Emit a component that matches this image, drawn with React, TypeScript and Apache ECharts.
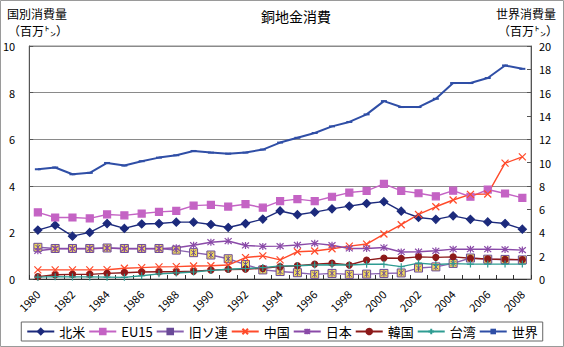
import React, { useEffect, useRef } from "react";
import * as echarts from "echarts";

// Refined copper consumption by country/region, million tonnes
const years = [
  "1980", "1981", "1982", "1983", "1984", "1985", "1986", "1987", "1988", "1989",
  "1990", "1991", "1992", "1993", "1994", "1995", "1996", "1997", "1998", "1999",
  "2000", "2001", "2002", "2003", "2004", "2005", "2006", "2007", "2008",
];
const northAmerica = [2.10, 2.31, 1.84, 2.00, 2.38, 2.17, 2.36, 2.38, 2.44, 2.44, 2.34, 2.21, 2.38, 2.57, 2.92, 2.76, 2.87, 3.01, 3.13, 3.24, 3.32, 2.91, 2.64, 2.56, 2.71, 2.56, 2.45, 2.38, 2.14];
const eu15 = [2.86, 2.64, 2.64, 2.60, 2.77, 2.73, 2.81, 2.88, 2.92, 3.15, 3.18, 3.11, 3.21, 3.06, 3.34, 3.43, 3.34, 3.53, 3.71, 3.78, 4.08, 3.78, 3.68, 3.55, 3.79, 3.53, 3.84, 3.67, 3.48];
const formerUSSR = [1.36, 1.31, 1.31, 1.31, 1.33, 1.31, 1.31, 1.31, 1.24, 1.13, 1.03, 0.87, 0.62, 0.39, 0.32, 0.27, 0.20, 0.24, 0.20, 0.21, 0.24, 0.26, 0.47, 0.52, 0.67, 0.90, 0.85, 0.84, 0.82];
const china = [0.39, 0.39, 0.39, 0.39, 0.40, 0.46, 0.49, 0.52, 0.53, 0.56, 0.57, 0.60, 0.92, 0.99, 0.82, 1.17, 1.20, 1.30, 1.41, 1.50, 1.93, 2.33, 2.77, 3.10, 3.39, 3.63, 3.65, 4.97, 5.24];
const japan = [1.21, 1.30, 1.30, 1.30, 1.33, 1.30, 1.30, 1.30, 1.34, 1.45, 1.58, 1.63, 1.44, 1.40, 1.41, 1.46, 1.53, 1.45, 1.31, 1.31, 1.35, 1.16, 1.17, 1.21, 1.28, 1.28, 1.28, 1.27, 1.24];
const korea = [0.10, 0.18, 0.20, 0.20, 0.24, 0.27, 0.30, 0.31, 0.31, 0.33, 0.38, 0.41, 0.42, 0.46, 0.53, 0.57, 0.64, 0.68, 0.60, 0.81, 0.90, 0.89, 0.95, 0.93, 0.95, 0.89, 0.86, 0.84, 0.83];
const taiwan = [0.08, 0.10, 0.09, 0.09, 0.08, 0.07, 0.14, 0.22, 0.26, 0.30, 0.37, 0.42, 0.45, 0.49, 0.56, 0.57, 0.60, 0.61, 0.60, 0.63, 0.63, 0.53, 0.68, 0.62, 0.66, 0.64, 0.64, 0.64, 0.64];
const world = [9.42, 9.57, 8.99, 9.11, 9.96, 9.74, 10.11, 10.42, 10.62, 10.99, 10.85, 10.76, 10.85, 11.11, 11.71, 12.12, 12.53, 13.10, 13.48, 14.13, 15.27, 14.76, 14.76, 15.47, 16.82, 16.82, 17.25, 18.33, 18.04];

const leftTicks = { min: 0, max: 10, interval: 2 };
const rightTicks = { min: 0, max: 20, interval: 2 };

const FONT = "'Noto Sans CJK JP', 'Noto Sans', sans-serif";

// Stroke-only marker shapes
const X_MARK = "path://M0,0L10,10M10,0L0,10";
const STAR_MARK = "path://M0,0L10,10M10,0L0,10M5,-1L5,11";
const PLUS_MARK = "path://M5,0L5,10M0,5L10,5";
const BOXED_X_MARK = "path://M0,0L10,0L10,10L0,10Z M2,2L8,8 M8,2L2,8 M5,1L5,9";

function lineSeries(
  name: string,
  data: number[],
  color: string,
  symbol: string,
  opts: { fill?: string; stroke?: string; size?: number | number[]; width?: number; yAxisIndex?: number; bw?: number } = {}
) {
  return {
    name,
    type: "line",
    data,
    yAxisIndex: opts.yAxisIndex ?? 0,
    symbol,
    symbolSize: opts.size ?? 7,
    showAllSymbol: true,
    lineStyle: { color, width: opts.width ?? 1.4 },
    itemStyle: {
      color: opts.fill ?? color,
      borderColor: opts.stroke ?? color,
      borderWidth: opts.bw ?? 1.2,
    },
    emphasis: { disabled: true },
  };
}

export default function App() {
  const ref = useRef<HTMLDivElement>(null);

  useEffect(() => {
    if (!ref.current) return;
    const chart = echarts.init(ref.current, undefined, { renderer: "svg" });
    chart.setOption({
      animation: false,
      backgroundColor: "#ffffff",
      textStyle: { fontFamily: FONT },
      grid: {
        left: 29,
        right: 33,
        top: 46,
        bottom: 68,
        show: true,
        borderColor: "#8a8a8a",
        borderWidth: 1,
      },
      graphic: [
        {
          type: "rect",
          shape: { x: 0.5, y: 0.5, width: 563, height: 346 },
          style: { fill: "none", stroke: "#9a9a9a", lineWidth: 1 },
          silent: true,
          z: -10,
        },
        {
          type: "text",
          x: 296,
          y: 9,
          style: { text: "銅地金消費", font: `14px ${FONT}`, fill: "#000", textAlign: "center" },
        },
        {
          type: "text",
          x: 7,
          y: 7,
          style: { text: "国別消費量", font: `12px ${FONT}`, fill: "#000" },
        },
        {
          type: "text",
          x: 8,
          y: 24,
          style: { text: "（百万㌧）", font: `12px ${FONT}`, fill: "#000" },
        },
        {
          type: "text",
          x: 556,
          y: 7,
          style: { text: "世界消費量", font: `12px ${FONT}`, fill: "#000", textAlign: "right" },
        },
        {
          type: "text",
          x: 558,
          y: 24,
          style: { text: "（百万㌧）", font: `12px ${FONT}`, fill: "#000", textAlign: "right" },
        },
      ],
      legend: {
        top: 322,
        left: "center",
        orient: "horizontal",
        itemWidth: 27,
        itemHeight: 7,
        itemGap: 3,
        padding: [3, 5],
        borderColor: "#666",
        borderWidth: 1,
        textStyle: { fontSize: 13, color: "#000", fontFamily: FONT },
        data: ["北米", "EU15", "旧ソ連", "中国", "日本", "韓国", "台湾", "世界"],
      },
      xAxis: {
        type: "category",
        data: years,
        boundaryGap: true,
        axisLine: { lineStyle: { color: "#333", width: 1 } },
        axisTick: { show: true, inside: true, length: 4, interval: 0, lineStyle: { color: "#333" } },
        axisLabel: {
          interval: 1,
          rotate: 45,
          fontSize: 11,
          color: "#000",
          margin: 13,
          fontFamily: FONT,
        },
        splitLine: { show: false },
      },
      yAxis: [
        {
          type: "value",
          ...leftTicks,
          position: "left",
          axisLine: { show: true, lineStyle: { color: "#555" } },
          axisTick: { show: true, inside: true, length: 4, lineStyle: { color: "#555" } },
          axisLabel: { fontSize: 11, color: "#000", margin: 14, fontFamily: FONT },
          splitLine: { show: true, lineStyle: { color: "#8a8a8a", width: 1 } },
        },
        {
          type: "value",
          ...rightTicks,
          position: "right",
          axisLine: { show: true, lineStyle: { color: "#555" } },
          axisTick: { show: true, inside: true, length: 4, lineStyle: { color: "#555" } },
          axisLabel: { fontSize: 11, color: "#000", margin: 8, fontFamily: FONT },
          splitLine: { show: false },
        },
      ],
      series: [
        lineSeries("北米", northAmerica, "#1c2a7c", "diamond", { size: 8 }),
        lineSeries("EU15", eu15, "#c463c4", "rect", { size: 7 }),
        lineSeries("旧ソ連", formerUSSR, "#8a62b0", BOXED_X_MARK, {
          fill: "#f2dc5a",
          stroke: "#6a4a98",
          size: 8,
          bw: 1,
        }),
        lineSeries("中国", china, "#ff4b2b", X_MARK, { size: 7 }),
        lineSeries("日本", japan, "#8a4aa8", STAR_MARK, { size: 7 }),
        lineSeries("韓国", korea, "#8c1a1a", "circle", { size: 6 }),
        lineSeries("台湾", taiwan, "#2e9c92", PLUS_MARK, { size: 7 }),
        lineSeries("世界", world, "#2f4ea6", "rect", { size: [6, 2], width: 2, yAxisIndex: 1, bw: 0 }),
      ],
    });
    return () => chart.dispose();
  }, []);

  return (
    <div
      ref={ref}
      style={{ position: "absolute", left: 0, top: 0, width: 564, height: 347 }}
    />
  );
}
